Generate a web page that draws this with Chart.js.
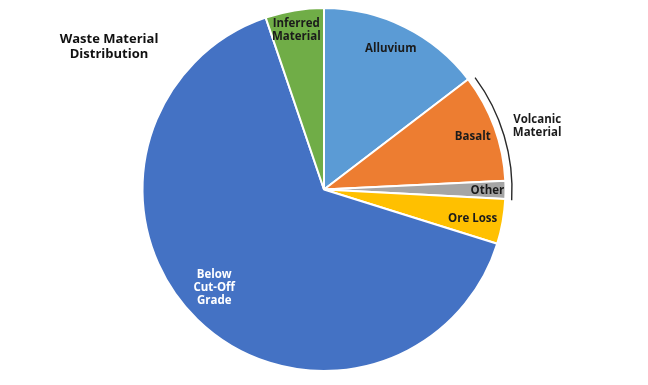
<!DOCTYPE html>
<html>
<head>
<meta charset="utf-8">
<script src="https://cdn.jsdelivr.net/npm/chart.js@4.4.1/dist/chart.umd.min.js"></script>
<style>
  html, body { margin: 0; padding: 0; background: #fff; }
  canvas { display: block; }
</style>
</head>
<body>
<canvas id="wastePie" width="648" height="385" style="width:648px;height:385px"></canvas>
<script>
// Waste material split, percent of total
const categories = ['Alluvium', 'Basalt', 'Other', 'Ore Loss', 'Below Cut-Off Grade', 'Inferred Material'];
const shares = [14.6, 9.6, 1.6, 4.0, 64.9, 5.2];
const labelLines = [['Alluvium'], ['Basalt'], ['Other'], ['Ore Loss'], ['Below', 'Cut-Off', 'Grade'], ['Inferred', 'Material']];
const titleLines = ['Waste Material', 'Distribution'];
const groupLines = ['Volcanic', 'Material'];
const groupMembers = ['Basalt', 'Other'];

const sliceColors = ['#5b9bd5', '#ed7d31', '#a5a5a5', '#ffc000', '#4472c4', '#70ad47'];
const textColors = ['#1b1b1b', '#1b1b1b', '#1b1b1b', '#1b1b1b', '#ffffff', '#1b1b1b'];
// radial fraction + angle nudge (degrees) for each label
const labelPlace = [[0.86, -1], [0.87, 0.5], [0.90, 0.3], [0.835, 1], [0.81, 4], [0.89, -0.5]];

const labelFont = 'bold 11.5px "Open Sans"';

// Draw slice labels, the bracket and the title
const annotate = {
  id: 'annotate',
  afterDatasetsDraw(chart) {
    const ctx = chart.ctx;
    const arcs = chart.getDatasetMeta(0).data;
    ctx.save();
    ctx.textAlign = 'center';
    ctx.textBaseline = 'middle';

    // slice labels
    ctx.font = labelFont;
    arcs.forEach((arc, i) => {
      const p = arc.getProps(['x', 'y', 'startAngle', 'endAngle', 'outerRadius'], true);
      const mid = (p.startAngle + p.endAngle) / 2 + labelPlace[i][1] * Math.PI / 180;
      const r = p.outerRadius * labelPlace[i][0];
      const lines = labelLines[i];
      const lh = 13;
      ctx.fillStyle = textColors[i];
      lines.forEach((t, k) => {
        ctx.fillText(t, p.x + Math.cos(mid) * r, p.y + Math.sin(mid) * r + (k - (lines.length - 1) / 2) * lh);
      });
    });

    // bracket round the volcanic slices
    const first = arcs[categories.indexOf(groupMembers[0])].getProps(['x', 'y', 'startAngle', 'outerRadius'], true);
    const last = arcs[categories.indexOf(groupMembers[groupMembers.length - 1])].getProps(['endAngle'], true);
    const a0 = first.startAngle + 0.015;
    const a1 = last.endAngle + 0.005;
    const rb = first.outerRadius + 6.5;
    ctx.strokeStyle = '#2a2a2a';
    ctx.lineWidth = 1.4;
    ctx.beginPath();
    ctx.arc(first.x, first.y, rb, a0, a1);
    ctx.stroke();

    const am = (a0 + a1) / 2;
    const gx = first.x + Math.cos(am) * (first.outerRadius + 41);
    const gy = first.y + Math.sin(am) * (first.outerRadius + 41);
    ctx.fillStyle = '#1b1b1b';
    groupLines.forEach((t, k) => ctx.fillText(t, gx, gy + (k - 0.5) * 13));

    // title
    ctx.font = 'bold 13px "Open Sans"';
    ctx.fillStyle = '#111111';
    titleLines.forEach((t, k) => ctx.fillText(t, 109, 39 + k * 15));
    ctx.restore();
  }
};

const ctx = document.getElementById('wastePie');

window.wasteChart = new Chart(ctx, {
  type: 'pie',
  data: {
    labels: categories,
    datasets: [{
      data: shares,
      backgroundColor: sliceColors,
      borderColor: '#ffffff',
      borderWidth: 2
    }]
  },
  options: {
    responsive: false,
    animation: false,
    layout: {
      padding: { top: 7, bottom: 13 }
    },
    plugins: {
      legend: { display: false },
      tooltip: { enabled: false }
    }
  },
  plugins: [annotate]
});
</script>
</body>
</html>
